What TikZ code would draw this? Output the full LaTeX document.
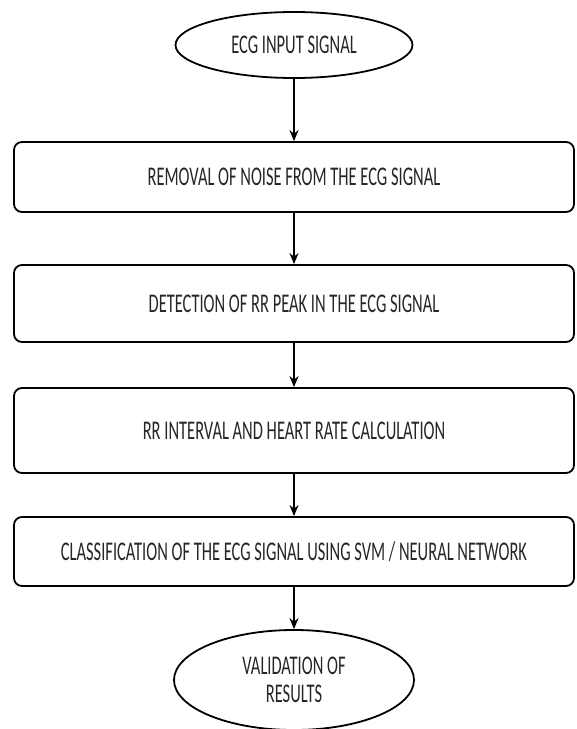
\documentclass[tikz,border=0pt]{standalone}
\usepackage{fontspec}
\setmainfont[FakeStretch=0.61]{Carlito}
\usetikzlibrary{shapes.geometric,arrows.meta}

\begin{document}
\begin{tikzpicture}[x=1pt, y=-1pt,
  stage/.style={draw, line width=1.8pt, rounded corners=8pt, minimum width=560pt,
    inner sep=0pt, text=black!85, font=\fontsize{27}{28}\selectfont},
  terminal/.style={ellipse, draw, line width=1.8pt, inner sep=0pt, align=center,
    text=black!85, font=\fontsize{27}{28}\selectfont},
  flow/.style={-{Stealth[length=11pt, width=9pt]}, line width=1.6pt}]

  \useasboundingbox (0,0) rectangle (577,729);

  % start
  \node[terminal, minimum width=237pt, minimum height=66pt] (input) at (294,45) {ECG INPUT SIGNAL};

  % processing steps
  \node[stage, minimum height=70pt] (denoise) at (294,177) {REMOVAL OF NOISE FROM THE ECG SIGNAL};
  \node[stage, minimum height=77pt] (rpeak) at (294,303.5) {DETECTION OF RR PEAK IN THE ECG SIGNAL};
  \node[stage, minimum height=85pt] (rrcalc) at (294,430.5) {RR INTERVAL AND HEART RATE CALCULATION};
  \node[stage, minimum height=69pt] (classify) at (294,551.5) {CLASSIFICATION OF THE ECG SIGNAL USING SVM / NEURAL NETWORK};

  % end
  \node[terminal, minimum width=240pt, minimum height=100pt] (validate) at (294,680) {VALIDATION OF\\RESULTS};

  % arrows
  \draw[flow] (input) -- (denoise);
  \draw[flow] (denoise) -- (rpeak);
  \draw[flow] (rpeak) -- (rrcalc);
  \draw[flow] (rrcalc) -- (classify);
  \draw[flow] (classify) -- (validate);

\end{tikzpicture}
\end{document}
